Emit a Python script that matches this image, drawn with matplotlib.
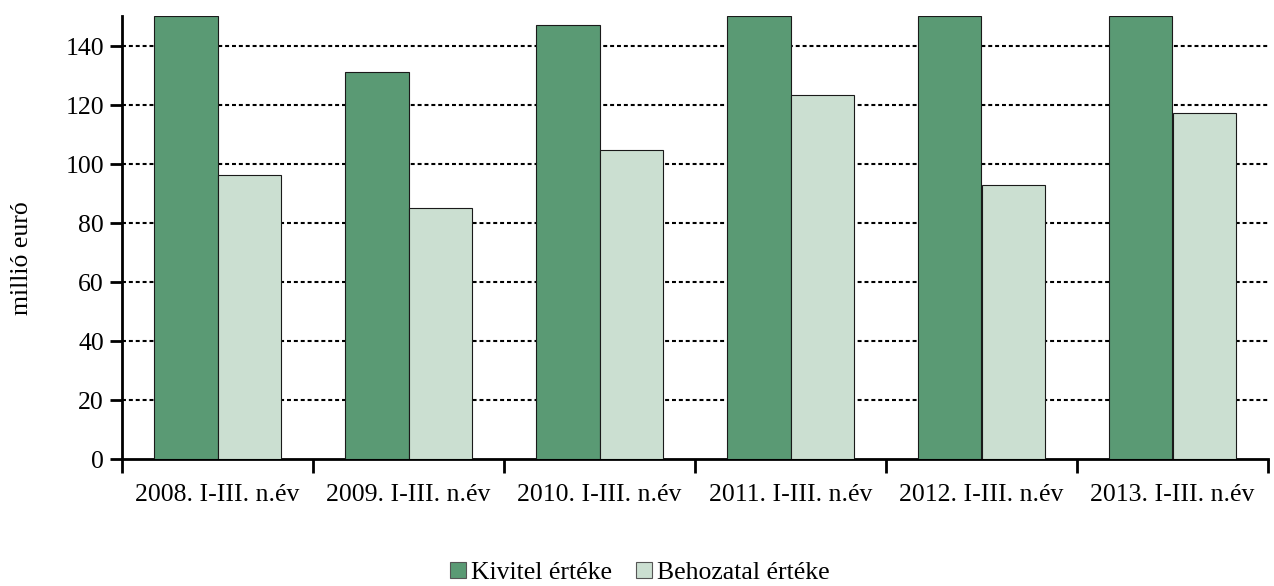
import matplotlib
matplotlib.use("Agg")
import matplotlib.pyplot as plt
import numpy as np

categories = ["2008. I-III. n.év", "2009. I-III. n.év", "2010. I-III. n.év",
              "2011. I-III. n.év", "2012. I-III. n.év", "2013. I-III. n.év"]
kivitel = [155, 131.2, 147.1, 160, 158, 162]
behozatal = [96.3, 85.1, 104.7, 123.4, 92.9, 117.3]
series_names = ["Kivitel értéke", "Behozatal értéke"]
yticks = [0, 20, 40, 60, 80, 100, 120, 140]

plt.rcParams['font.family'] = ['Liberation Serif', 'DejaVu Serif']
YMAX = 150.2
FS = 18.5

fig = plt.figure(figsize=(12.74, 5.86), dpi=100)
ax = fig.add_axes([122/1274, (586-459)/586, (1268-122)/1274, (459-16)/586])

x = np.arange(len(categories)) + 0.5
w = 0.335
c1 = "#5a9a74"
c2 = "#cbdfd1"
ax.bar(x - w/2, np.minimum(kivitel, YMAX), width=w, color=c1, edgecolor="#1a1a1a", linewidth=0.8, zorder=3, label=series_names[0])
ax.bar(x + w/2, np.minimum(behozatal, YMAX), width=w, color=c2, edgecolor="#1a1a1a", linewidth=0.8, zorder=3, label=series_names[1])

ax.set_xlim(0, len(categories))
ax.set_ylim(0, YMAX)
ax.set_yticks(yticks)
ax.set_yticklabels([str(v) for v in yticks], fontsize=FS)
for v in yticks[1:]:
    ax.axhline(v, color="black", linestyle=(0, (1.9, 1.4)), linewidth=1.5, zorder=1)

ax.set_xticks(np.arange(len(categories) + 1))
ax.set_xticklabels([])
ax.set_xticks(x, minor=True)
ax.set_xticklabels(categories, minor=True, fontsize=FS)
ax.tick_params(axis="x", which="minor", length=0, pad=18)
ax.tick_params(axis="x", which="major", length=10, width=2, direction="out")
ax.tick_params(axis="y", length=9, width=2, direction="out", pad=4)

for s in ["top", "right"]:
    ax.spines[s].set_visible(False)
ax.spines["left"].set_linewidth(2)
ax.spines["bottom"].set_linewidth(2)

fig.text(22/1274, 1 - 258/586, "millió euró", rotation=90, ha="center", va="center", fontsize=FS)

leg = fig.legend(loc="center", bbox_to_anchor=(640/1274, 1 - 573/586), ncol=2, frameon=False,
                 fontsize=FS, handlelength=0.62, handleheight=0.62, handletextpad=0.18, columnspacing=0.95,
                 borderpad=0)
for h in leg.legend_handles:
    h.set_edgecolor("#555555")

fig.savefig("out.png", dpi=100)
